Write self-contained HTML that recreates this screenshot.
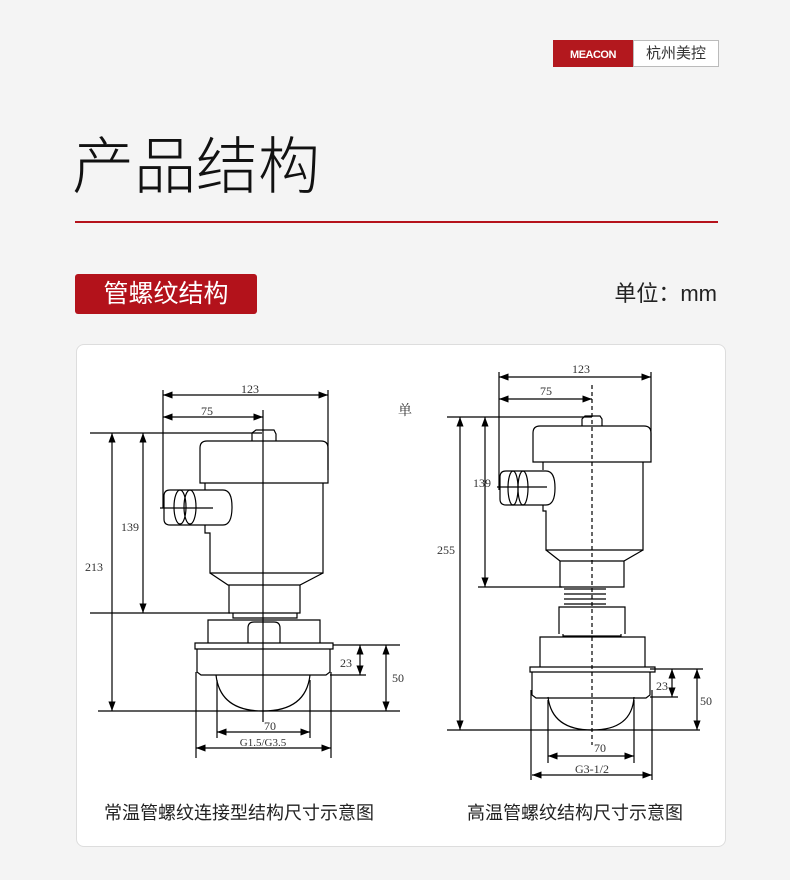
<!DOCTYPE html>
<html><head><meta charset="utf-8"><style>
body{margin:0;background:#f4f4f4;}
.p{position:relative;width:790px;height:880px;overflow:hidden;font-family:"Liberation Sans","Noto Sans CJK SC",sans-serif;}
.a{position:absolute;}
</style></head><body><div class="p">
<div class="a" style="left:553px;top:40px;width:80px;height:27px;background:#b3181e;color:#fff;font-size:11px;font-weight:bold;line-height:30px;text-align:center;letter-spacing:-0.5px">MEACON</div>
<div class="a" style="left:633px;top:40px;width:84px;height:25px;background:#fff;border:1px solid #bbb;color:#333;font-size:15px;line-height:25px;text-align:center">杭州美控</div>
<div class="a" style="left:72px;top:128px;font-size:62px;color:#111;line-height:80px;font-weight:300">产品结构</div>
<div class="a" style="left:75px;top:221px;width:643px;height:2px;background:#b5121b"></div>
<div class="a" style="left:75px;top:274px;width:182px;height:40px;background:#b3121b;border-radius:3px;color:#fff;font-size:25px;line-height:40px;text-align:center">管螺纹结构</div>
<div class="a" style="right:73px;top:279px;font-size:22px;color:#222;line-height:30px">单位：mm</div>
<div class="a" style="left:76px;top:344px;width:648px;height:501px;background:#fff;border:1px solid #ddd;border-radius:8px"></div>
<svg class="a" style="left:0;top:0" width="790" height="880" viewBox="0 0 790 880">
<defs><marker id="m" markerWidth="8" markerHeight="6" refX="8" refY="3" orient="auto-start-reverse"><path d="M0,0L8,3L0,6z" fill="#000"/></marker></defs>
<g fill="none" stroke="#000" stroke-width="1.2" font-family="Liberation Serif,serif" font-size="12">
<line x1="163" y1="390" x2="163" y2="508"/><line x1="328" y1="390" x2="328" y2="470"/>
<line x1="163" y1="395" x2="328" y2="395" marker-start="url(#m)" marker-end="url(#m)"/>
<line x1="163" y1="417" x2="263" y2="417" marker-start="url(#m)" marker-end="url(#m)"/>
<line x1="90" y1="433" x2="262" y2="433"/>
<path d="M252,441V433l4,-3h18l2,4v7"/>
<path d="M200,483V448q0,-7 7,-7h114q7,0 7,7V483z"/>
<path d="M205,483V490M205,525V533h5V573h113V483"/>
<path d="M170,490h53q9,0 9,17q0,18 -9,18h-53q-6,0 -6,-6v-23q0,-6 6,-6z"/>
<ellipse cx="180" cy="507" rx="6" ry="17"/><ellipse cx="190" cy="507" rx="6" ry="17"/>
<line x1="160" y1="508" x2="213" y2="508"/>
<path d="M210,573L228,585H300L323,573M229,585V613H300V585M233,613v5h64v-5"/>
<path d="M208,643V620h112v23M248,643V628q0,-6 6,-6h20q6,0 6,6v15"/>
<path d="M195,643h138v6H195zM197,649V672l4,3h125l4,-3V649"/>
<path d="M216,675Q220,711 263,711Q306,711 310,675"/>
<line x1="263" y1="410" x2="263" y2="722"/>
<line x1="98" y1="711" x2="400" y2="711"/>
<line x1="90" y1="613" x2="230" y2="613"/>
<line x1="143" y1="433" x2="143" y2="613" marker-start="url(#m)" marker-end="url(#m)"/>
<line x1="112" y1="433" x2="112" y2="711" marker-start="url(#m)" marker-end="url(#m)"/>
<line x1="333" y1="645" x2="400" y2="645"/><line x1="330" y1="675" x2="366" y2="675"/>
<line x1="360" y1="645" x2="360" y2="675" marker-start="url(#m)" marker-end="url(#m)"/>
<line x1="386" y1="645" x2="386" y2="711" marker-start="url(#m)" marker-end="url(#m)"/>
<line x1="217" y1="680" x2="217" y2="738"/><line x1="310" y1="680" x2="310" y2="738"/>
<line x1="217" y1="732" x2="310" y2="732" marker-start="url(#m)" marker-end="url(#m)"/>
<line x1="196" y1="672" x2="196" y2="758"/><line x1="331" y1="672" x2="331" y2="758"/>
<line x1="196" y1="748" x2="331" y2="748" marker-start="url(#m)" marker-end="url(#m)"/>
<line x1="499" y1="372" x2="499" y2="490"/><line x1="651" y1="372" x2="651" y2="450"/>
<line x1="499" y1="377" x2="651" y2="377" marker-start="url(#m)" marker-end="url(#m)"/>
<line x1="499" y1="399" x2="592" y2="399" marker-start="url(#m)" marker-end="url(#m)"/>
<line x1="447" y1="417" x2="592" y2="417"/>
<path d="M582,426V419l3,-3h15l2,3v7"/>
<path d="M533,462V433q0,-7 7,-7h104q7,0 7,7V462z"/>
<path d="M543,462V470M543,505V511h3V550h97V462"/>
<path d="M506,471h40q9,0 9,17q0,17 -9,17h-40q-6,0 -6,-6v-22q0,-6 6,-6z"/>
<ellipse cx="513" cy="488" rx="5" ry="17"/><ellipse cx="523" cy="488" rx="5" ry="17"/>
<line x1="497" y1="487" x2="547" y2="487"/>
<path d="M546,550L560,561H624L643,550M560,561V587H624V561"/>
<path d="M564,589h42M564,594h42M564,599h42M564,604h42"/>
<path d="M559,634V607h66v27M563,634v2h58v-2"/>
<path d="M540,667V637h105v30"/>
<path d="M530,667h125v5H530zM532,672V695l4,3h110l4,-3V672"/>
<path d="M548,697Q552,730 592,730Q632,730 634,697"/>
<line x1="592" y1="385" x2="592" y2="745" stroke-dasharray="4,3"/>
<line x1="447" y1="730" x2="700" y2="730"/>
<line x1="478" y1="587" x2="562" y2="587"/>
<line x1="485" y1="417" x2="485" y2="587" marker-start="url(#m)" marker-end="url(#m)"/>
<line x1="460" y1="417" x2="460" y2="730" marker-start="url(#m)" marker-end="url(#m)"/>
<line x1="650" y1="669" x2="703" y2="669"/><line x1="650" y1="697" x2="678" y2="697"/>
<line x1="672" y1="669" x2="672" y2="697" marker-start="url(#m)" marker-end="url(#m)"/>
<line x1="697" y1="669" x2="697" y2="730" marker-start="url(#m)" marker-end="url(#m)"/>
<line x1="548" y1="700" x2="548" y2="763"/><line x1="634" y1="700" x2="634" y2="763"/>
<line x1="548" y1="756" x2="634" y2="756" marker-start="url(#m)" marker-end="url(#m)"/>
<line x1="531" y1="690" x2="531" y2="780"/><line x1="652" y1="690" x2="652" y2="780"/>
<line x1="532" y1="775" x2="652" y2="775" marker-start="url(#m)" marker-end="url(#m)"/>
</g>
<g font-family="Liberation Serif,serif" font-size="12" fill="#333" text-anchor="middle">
<text x="250" y="393">123</text><text x="207" y="415">75</text>
<text x="130" y="531">139</text><text x="94" y="571">213</text>
<text x="346" y="667">23</text><text x="398" y="682">50</text>
<text x="270" y="730">70</text><text x="263" y="746" font-size="11">G1.5/G3.5</text>
<text x="581" y="373">123</text><text x="546" y="395">75</text>
<text x="482" y="487">139</text><text x="446" y="554">255</text>
<text x="662" y="690">23</text><text x="706" y="705">50</text>
<text x="600" y="752">70</text><text x="592" y="773">G3-1/2</text>
<text x="405" y="415" font-family="Noto Serif CJK SC,serif" font-size="14">单</text>
</g>
<g font-family="Liberation Sans,Noto Sans CJK SC,sans-serif" font-size="18" fill="#222" text-anchor="middle">
<text x="239" y="819">常温管螺纹连接型结构尺寸示意图</text>
<text x="575" y="819">高温管螺纹结构尺寸示意图</text>
</g>
</svg>
</div></body></html>
